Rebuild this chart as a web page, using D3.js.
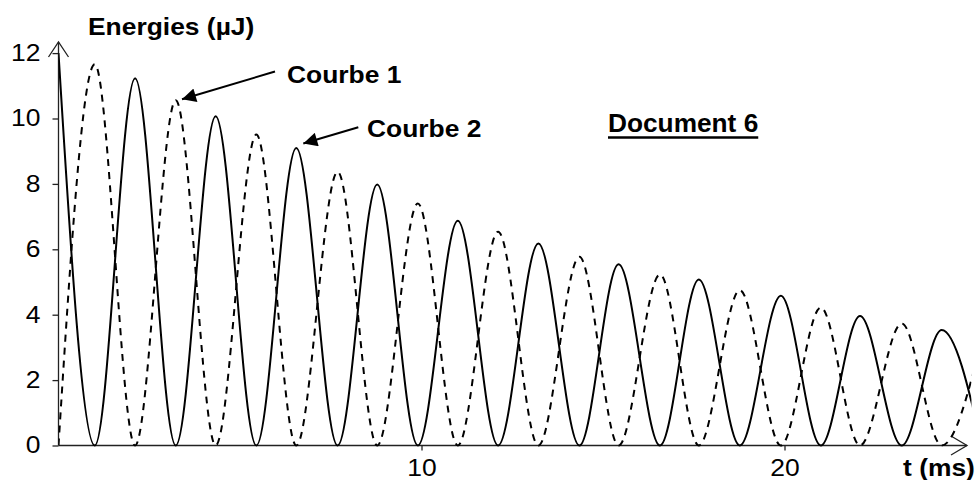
<!DOCTYPE html>
<html>
<head>
<meta charset="utf-8">
<script src="https://cdn.jsdelivr.net/npm/d3@7"></script>
<style>
  body { margin: 0; background: #fff; }
  svg { display: block; font-family: "Liberation Sans", Arial, sans-serif; }
</style>
</head>
<body>
<svg id="chart"></svg>
<script>
// values (t in ms, energies in µJ)
var times   = [0, 1.0, 2.11, 3.23, 4.33, 5.45, 6.55, 7.69, 8.78, 9.9, 11.0, 12.11,
               13.22, 14.35, 15.43, 16.57, 17.64, 18.77, 19.9, 21.0, 22.08, 23.23, 24.33, 25.44];
var courbe1 = [0, 11.66, 0, 10.56, 0, 9.51, 0, 8.37, 0, 7.40, 0, 6.54,
               0, 5.77, 0, 5.23, 0, 4.75, 0, 4.22, 0, 3.73, 0, 3.27];
var courbe2 = [12, 0, 11.23, 0, 10.07, 0, 9.10, 0, 7.98, 0, 6.87, 0,
               6.18, 0, 5.54, 0, 5.08, 0, 4.58, 0, 3.96, 0, 3.53, 0];
var yTicks = [0, 2, 4, 6, 8, 10, 12];
var xTicks = [10, 20];
var tEnd = 25.15;

var width = 977,
    height = 480;
var stretch = 1.1; // the lettering in the original is a bit wide

var x = d3.scaleLinear().domain([0, 25]).range([58.5, 966]);
var y = d3.scaleLinear().domain([0, 12]).range([445.5, 53.1]);

var svg = d3.select('#chart')
            .attr('width', width)
            .attr('height', height);

svg.append('defs').append('clipPath')
    .attr('id', 'plotclip')
  .append('rect')
    .attr('x', x(0))
    .attr('y', 0)
    .attr('width', x(tEnd) - x(0))
    .attr('height', height);

svg.select('defs').append('marker')
    .attr('id', 'head')
    .attr('viewBox', '0 0 10 10')
    .attr('refX', 10).attr('refY', 5)
    .attr('markerWidth', 8).attr('markerHeight', 7)
    .attr('markerUnits', 'strokeWidth')
    .attr('orient', 'auto')
  .append('path')
    .attr('d', 'M0,0 L10,5 L0,10 Z')
    .attr('fill', '#000');

function widen(sel, k) {
  sel.each(function() {
    var len = this.getComputedTextLength();
    d3.select(this)
      .attr('textLength', len * k)
      .attr('lengthAdjust', 'spacingAndGlyphs');
  });
}

// axes
var yAxis = d3.axisLeft(y).tickValues(yTicks).tickSize(6).tickPadding(12);
var xAxis = d3.axisBottom(x).tickValues(xTicks).tickSize(5).tickPadding(9);

var gy = svg.append('g').attr('transform', 'translate(' + x(0) + ',0)').call(yAxis);
var gx = svg.append('g').attr('transform', 'translate(0,' + y(0) + ')').call(xAxis);
[gy, gx].forEach(function(g) {
  g.select('.domain').remove();
  g.selectAll('.tick line').attr('stroke', '#222').attr('stroke-width', 1.3);
  g.selectAll('.tick text')
    .attr('fill', '#000')
    .style('font-size', '23px')
    .style('font-family', '"Liberation Sans", Arial, sans-serif')
    .call(widen, 1.15);
});

var axisStyle = function(sel) {
  sel.attr('fill', 'none').attr('stroke', '#222').attr('stroke-width', 1.3);
};
svg.append('path')
    .attr('d', 'M' + x(0) + ',' + y(0) + 'V42')
    .call(axisStyle);
svg.append('path')
    .attr('d', 'M' + (x(0) - 10) + ',57L' + x(0) + ',42L' + (x(0) + 10) + ',57')
    .call(axisStyle);
svg.append('path')
    .attr('d', 'M' + x(0) + ',' + y(0) + 'H967')
    .call(axisStyle);
svg.append('path')
    .attr('d', 'M951,' + (y(0) - 9.5) + 'L967,' + y(0) + 'L951,' + (y(0) + 9.5))
    .call(axisStyle);

// curves
var line = d3.line()
    .x(function(d) { return x(d[0]); })
    .y(function(d) { return y(d[1]); })
    .curve(d3.curveMonotoneX);

var plot = svg.append('g').attr('clip-path', 'url(#plotclip)');

plot.append('path')
    .datum(d3.zip(times, courbe1))
    .attr('d', line)
    .attr('fill', 'none')
    .attr('stroke', '#000')
    .attr('stroke-width', 2)
    .attr('stroke-dasharray', '7,6');

plot.append('path')
    .datum(d3.zip(times, courbe2))
    .attr('d', line)
    .attr('fill', 'none')
    .attr('stroke', '#000')
    .attr('stroke-width', 2);

// labels
function label(tx, ty, size, str, k) {
  return svg.append('text')
      .attr('x', tx).attr('y', ty)
      .style('font-size', size + 'px').style('font-weight', 'bold')
      .text(str)
      .call(widen, k || stretch);
}

label(88, 35, 24, 'Energies (µJ)');
label(903, 476, 24, 't (ms)');
label(287, 83.3, 24, 'Courbe 1');
label(367, 136.7, 24, 'Courbe 2');
var doc = label(608, 132.3, 25, 'Document 6', 1.05);
var docW = +doc.attr('textLength');
svg.append('line')
    .attr('x1', 608).attr('x2', 608 + docW)
    .attr('y1', 137.5).attr('y2', 137.5)
    .attr('stroke', '#000').attr('stroke-width', 2.7);

// annotation arrows
svg.append('line')
    .attr('x1', 275).attr('y1', 71.5)
    .attr('x2', 182).attr('y2', 99.3)
    .attr('stroke', '#000').attr('stroke-width', 2)
    .attr('marker-end', 'url(#head)');

svg.append('line')
    .attr('x1', 358.3).attr('y1', 127.3)
    .attr('x2', 303.3).attr('y2', 143.5)
    .attr('stroke', '#000').attr('stroke-width', 2)
    .attr('marker-end', 'url(#head)');
</script>
</body>
</html>
